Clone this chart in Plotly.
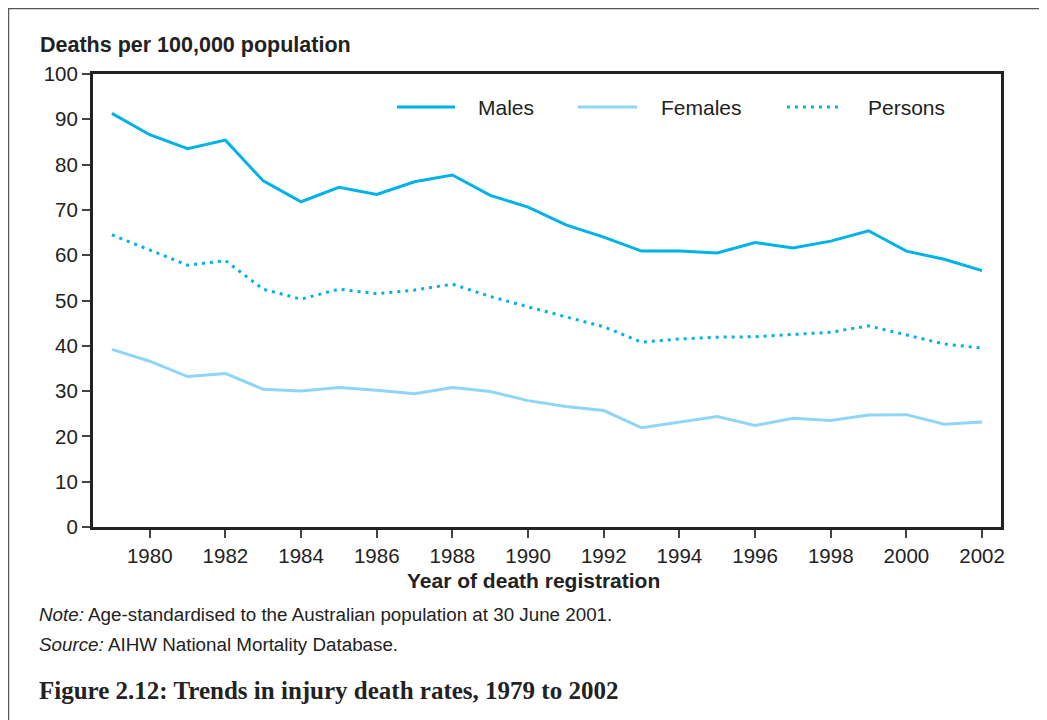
import plotly.graph_objects as go

# data
years = list(range(1979, 2003))
males = [91.3, 86.6, 83.5, 85.4, 76.4, 71.8, 75.0, 73.4, 76.2, 77.7, 73.2, 70.6,
         66.7, 64.0, 60.9, 60.9, 60.5, 62.8, 61.6, 63.1, 65.4, 60.9, 59.1, 56.6]
females = [39.2, 36.6, 33.2, 33.9, 30.4, 30.0, 30.8, 30.2, 29.4, 30.8, 29.9, 27.9,
           26.6, 25.7, 21.9, 23.1, 24.4, 22.4, 24.0, 23.5, 24.7, 24.8, 22.7, 23.2]
persons = [64.5, 61.1, 57.8, 58.8, 52.5, 50.3, 52.5, 51.5, 52.3, 53.6, 50.9, 48.6,
           46.4, 44.2, 40.8, 41.5, 41.9, 42.0, 42.5, 43.0, 44.4, 42.4, 40.4, 39.5]
x_ticks = list(range(1980, 2003, 2))
y_ticks = list(range(0, 101, 10))

MALE_COL = "#00b2e8"
FEMALE_COL = "#8ed6f6"
DOTS = "3px,5px"

# page has an 8px body margin, so the figure is 8px smaller each way
OFF = 8
W, H = 1047 - OFF, 720 - OFF
L, R, T, B = 93, 1001, 74, 527  # plot area in page pixels


def px(x):
    return (x - L) / (R - L)


def py(y):
    return (B - y) / (B - T)


fig = go.Figure()
fig.add_trace(go.Scatter(x=years, y=males, mode="lines", name="Males",
                         line=dict(color=MALE_COL, width=3)))
fig.add_trace(go.Scatter(x=years, y=females, mode="lines", name="Females",
                         line=dict(color=FEMALE_COL, width=3)))
fig.add_trace(go.Scatter(x=years, y=persons, mode="lines", name="Persons",
                         line=dict(color=MALE_COL, width=3, dash=DOTS)))

fig.update_layout(
    width=W, height=H,
    margin=dict(l=L - OFF, r=W - (R - OFF), t=T - OFF, b=H - (B - OFF)),
    paper_bgcolor="white", plot_bgcolor="white",
    showlegend=False,
    font=dict(family="Liberation Sans, Arial, sans-serif", color="#222"),
)
fig.update_xaxes(range=[1978.5, 2002.5], tickvals=x_ticks, ticks="outside",
                 ticklen=8, tickwidth=1.5, tickcolor="#444",
                 showline=True, linecolor="#222", linewidth=3, mirror=True,
                 showgrid=False, zeroline=False,
                 tickfont=dict(size=20.5, color="#222"))
fig.update_yaxes(range=[0, 100], tickvals=y_ticks, ticks="outside",
                 ticklen=8, tickwidth=1.5, tickcolor="#444",
                 showline=True, linecolor="#222", linewidth=3, mirror=True,
                 showgrid=False, zeroline=False,
                 tickfont=dict(size=20.5, color="#222"))

# outer frame
fig.add_shape(type="rect", xref="paper", yref="paper",
              x0=px(8.6), x1=px(1045), y0=py(740), y1=py(8.6),
              line=dict(color="#555", width=1.2), fillcolor="rgba(0,0,0,0)")

# legend drawn by hand to get the long line samples
legend = [("Males", 397, 455, 478, dict(color=MALE_COL, width=3)),
          ("Females", 578, 637, 661, dict(color=FEMALE_COL, width=3)),
          ("Persons", 787, 843, 868, dict(color=MALE_COL, width=3, dash=DOTS))]
for name, x0, x1, xt, ln in legend:
    fig.add_shape(type="line", xref="paper", yref="paper",
                  x0=px(x0), x1=px(x1), y0=py(107), y1=py(107), line=ln)
    fig.add_annotation(text=name, xref="paper", yref="paper", x=px(xt - 2), y=py(107),
                       xanchor="left", yanchor="middle", showarrow=False,
                       font=dict(size=21, color="#222"))

# titles and notes
fig.add_annotation(text="<b>Deaths per 100,000 population</b>", xref="paper", yref="paper",
                   x=px(38), y=py(45), xanchor="left", yanchor="middle", showarrow=False,
                   font=dict(size=21.5, color="#222"))
fig.add_annotation(text="<b>Year of death registration</b>", xref="paper", yref="paper",
                   x=px(533), y=py(580), xanchor="center", yanchor="middle", showarrow=False,
                   font=dict(size=21, color="#222"))
fig.add_annotation(text="<i>Note:</i> Age-standardised to the Australian population at 30 June 2001.",
                   xref="paper", yref="paper", x=px(37), y=py(614), xanchor="left",
                   yanchor="middle", showarrow=False, font=dict(size=18.8, color="#222"))
fig.add_annotation(text="<i>Source:</i> AIHW National Mortality Database.",
                   xref="paper", yref="paper", x=px(37), y=py(644), xanchor="left",
                   yanchor="middle", showarrow=False, font=dict(size=18.8, color="#222"))
fig.add_annotation(text="<b>Figure 2.12: Trends in injury death rates, 1979 to 2002</b>",
                   xref="paper", yref="paper", x=px(37), y=py(690), xanchor="left",
                   yanchor="middle", showarrow=False,
                   font=dict(size=25, color="#222", family="Liberation Serif, Times New Roman, serif"))

fig.write_html("out.html")
